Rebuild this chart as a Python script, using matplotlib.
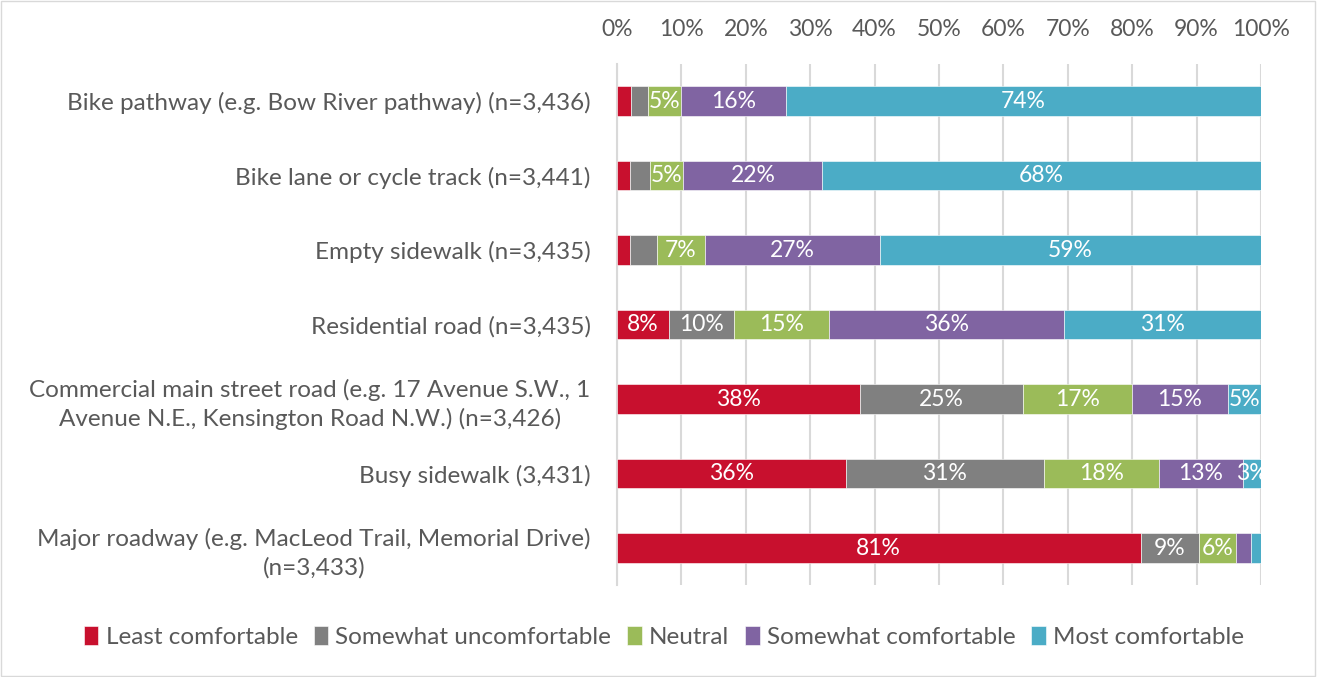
import numpy as np
import matplotlib.pyplot as plt
from matplotlib.patches import Rectangle

plt.rcParams['font.family'] = ['Lato', 'DejaVu Sans']

categories = [
    "Bike pathway (e.g. Bow River pathway) (n=3,436)",
    "Bike lane or cycle track (n=3,441)",
    "Empty sidewalk (n=3,435)",
    "Residential road (n=3,435)",
    "Commercial main street road (e.g. 17 Avenue S.W., 1\nAvenue N.E., Kensington Road N.W.) (n=3,426)",
    "Busy sidewalk (3,431)",
    "Major roadway (e.g. MacLeod Trail, Memorial Drive)\n(n=3,433)",
]
series_names = ["Least comfortable", "Somewhat uncomfortable", "Neutral",
                "Somewhat comfortable", "Most comfortable"]

least = [2.1, 2.0, 2.0, 8.0, 37.7, 35.5, 81.3]
somewhat_unc = [2.7, 3.2, 4.2, 10.1, 25.3, 30.8, 9.1]
neutral = [5.2, 5.1, 7.4, 14.8, 16.9, 17.8, 5.7]
somewhat_com = [16.2, 21.6, 27.3, 36.5, 14.9, 13.1, 2.3]
most = [73.8, 68.1, 59.1, 30.6, 5.2, 2.8, 1.6]

# which segments carry a data label in the original
show_least = [False, False, False, True, True, True, True]
show_unc = [False, False, False, True, True, True, True]
show_neutral = [True, True, True, True, True, True, True]
show_com = [True, True, True, True, True, True, False]
show_most = [True, True, True, True, True, True, False]

colors = ["#C8102E", "#808080", "#9BBB59", "#8064A2", "#4BACC6"]

series = [least, somewhat_unc, neutral, somewhat_com, most]
shows = [show_least, show_unc, show_neutral, show_com, show_most]

fig = plt.figure(figsize=(13.18, 6.77), dpi=100)
ax = fig.add_axes([617 / 1318, 1 - 585.25 / 677, 644 / 1318, 521.5 / 677])

y = np.arange(len(categories))
left = np.zeros(len(categories))
handles = []
for vals, show, col, name in zip(series, shows, colors, series_names):
    vals = np.array(vals)
    b = ax.barh(y, vals, left=left, height=0.4, color=col, edgecolor='white',
                linewidth=0.4, label=name, zorder=3)
    handles.append(b)
    for yi, v, l, s in zip(y, vals, left, show):
        if s:
            ax.text(l + v / 2, yi, f"{round(v):.0f}%", ha='center', va='center',
                    color='white', fontsize=16.5, zorder=4)
    left = left + vals

ax.set_xlim(0, 100)
ax.set_ylim(len(categories) - 0.5, -0.5)
ax.set_xticks(np.arange(0, 101, 10))
ax.set_xticklabels([f"{t}%" for t in range(0, 101, 10)])
ax.xaxis.tick_top()
ax.tick_params(axis='x', length=0, pad=17, labelsize=16.5, labelcolor='#595959')
ax.set_yticks(y)
ax.set_yticklabels(categories, fontsize=17.5, color='#595959', multialignment='center',
                   linespacing=1.4)
ax.tick_params(axis='y', length=0, pad=19)
ax.grid(axis='x', color='#D9D9D9', linewidth=1.5, zorder=0)
for s in ['top', 'right', 'bottom']:
    ax.spines[s].set_visible(False)
ax.spines['left'].set_color('#D9D9D9')
ax.spines['left'].set_linewidth(1.5)

fig.legend(handles=handles, loc='center', bbox_to_anchor=(664 / 1318, 1 - 637 / 677),
           ncol=5, frameon=False, fontsize=17.5, handlelength=0.6, handleheight=0.8,
           handletextpad=0.3, columnspacing=0.65, labelcolor='#595959')

fig.patches.append(Rectangle((0.001, 0.002), 0.997, 0.996, transform=fig.transFigure,
                             fill=False, edgecolor='#D9D9D9', linewidth=1))

fig.savefig('out.png', dpi=100)
